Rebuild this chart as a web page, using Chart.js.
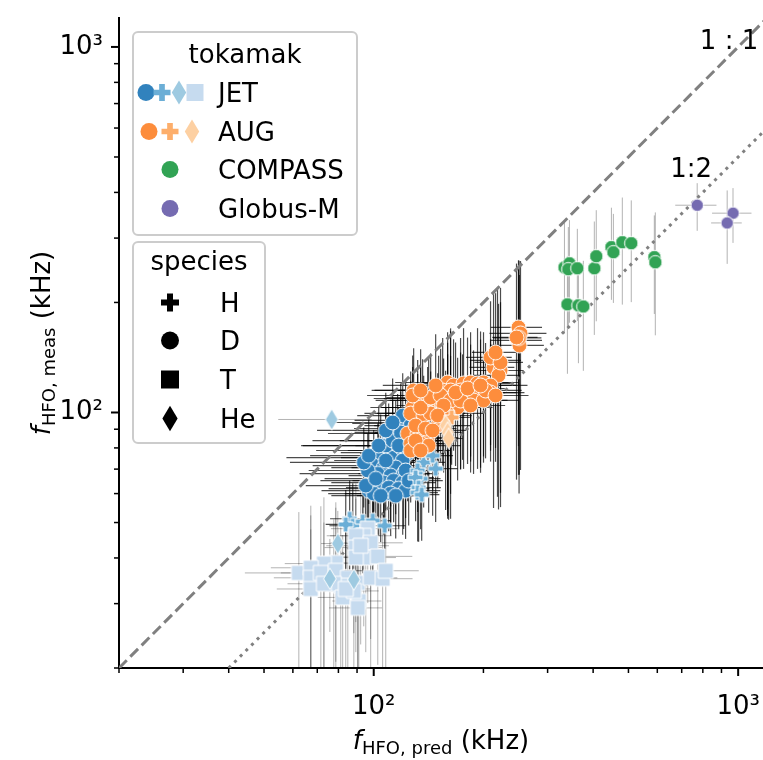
<!DOCTYPE html>
<html>
<head>
<meta charset="utf-8">
<title>HFO frequency: measured vs predicted</title>
<script src="https://cdn.jsdelivr.net/npm/chart.js@4.4.1/dist/chart.umd.min.js"></script>
<style>
  html, body { margin: 0; padding: 0; background: #fff; }
  #hfo { display: block; }
</style>
</head>
<body>
<canvas id="hfo" width="763" height="760"></canvas>
<script>
// Each point: [f_pred, f_meas, err_pred, err_meas], all in kHz
const jetD = [
  [118.6, 95.1, 30, 25], [116.3, 90.4, 28, 22], [122.3, 93.3, 35, 28], [114.9, 87.6, 40, 20],
  [109.9, 83.8, 42, 22], [104.5, 78.7, 35, 20], [109.2, 77.7, 28, 18], [114.9, 78.7, 30, 22],
  [123.9, 77.2, 32, 20], [102.6, 75.3, 45, 18], [111.3, 75.3, 30, 20], [120.1, 73.9, 28, 16],
  [100.0, 71.6, 32, 18], [106.5, 70.7, 30, 20], [114.9, 70.7, 28, 18], [102.6, 68.0, 40, 16],
  [111.3, 67.2, 26, 18], [120.8, 68.0, 30, 20], [99.4, 65.1, 28, 16], [106.5, 64.3, 30, 18],
  [113.4, 65.1, 26, 15], [120.1, 64.3, 28, 18], [96.9, 61.1, 25, 14], [103.2, 61.9, 28, 16],
  [109.9, 62.3, 26, 15], [117.1, 61.9, 25, 14], [122.3, 61.1, 30, 16], [100.0, 60.0, 25, 15],
  [111.3, 60.0, 28, 14], [120.1, 98.1, 30, 30], [126.3, 92.1, 32, 30], [107.9, 81.2, 44, 22],
  [128.7, 88.2, 28, 28], [96.3, 69.4, 30, 18], [107.9, 73.9, 30, 20], [126.3, 83.8, 30, 20],
  [93.9, 73.0, 35, 18], [96.9, 76.2, 30, 20], [103.2, 81.2, 40, 22], [112.7, 83.8, 32, 24],
  [118.6, 88.2, 30, 26], [117.1, 81.2, 28, 22], [122.3, 69.4, 26, 18], [124.7, 65.1, 30, 16],
  [114.9, 59.2, 25, 14], [104.5, 59.2, 28, 15], [95.1, 63.1, 30, 16], [107.9, 89.3, 38, 24],
  [112.7, 93.9, 35, 30], [101.3, 65.9, 28, 16]
];
const jetH = [
  [85.9, 51.2, 10, 14], [87.6, 49.0, 12, 15], [93.3, 50.3, 10, 14], [99.4, 50.6, 12, 16],
  [107.2, 49.0, 15, 14], [83.8, 49.4, 10, 12], [137.1, 73.0, 20, 18], [147.9, 70.2, 22, 20],
  [132.0, 69.4, 18, 16], [134.5, 65.9, 18, 18], [130.3, 66.4, 16, 16], [132.8, 62.3, 20, 18],
  [132.0, 60.4, 18, 16], [145.1, 76.2, 20, 24], [135.4, 59.6, 16, 15]
];
const jetHe = [
  [76.7, 95.7, 22, 5], [79.7, 43.8, 8, 10], [75.8, 35.1, 8, 10], [88.2, 34.9, 8, 10]
];
const jetT = [
  [96.3, 48.1, 20, 18], [93.9, 46.0, 18, 20], [89.3, 46.0, 15, 18], [98.1, 44.0, 22, 20],
  [89.3, 42.7, 16, 16], [95.1, 40.1, 20, 18], [102.6, 40.4, 25, 20], [89.3, 40.1, 15, 18],
  [78.7, 38.8, 14, 18], [73.0, 38.6, 16, 20], [62.3, 36.4, 18, 17], [67.2, 37.6, 15, 18],
  [67.2, 35.3, 14, 17], [71.6, 36.4, 16, 19], [78.7, 36.9, 14, 18], [84.9, 35.3, 18, 17],
  [81.2, 33.6, 15, 16], [77.7, 34.0, 12, 17], [67.2, 32.9, 13, 15], [73.0, 34.0, 15, 16],
  [90.4, 34.2, 16, 17], [98.1, 35.3, 18, 18], [105.8, 35.1, 22, 17], [107.9, 36.9, 25, 19],
  [82.2, 31.2, 12, 15], [91.0, 30.5, 14, 14], [88.2, 32.5, 15, 16], [83.8, 32.9, 14, 16],
  [90.4, 29.2, 15, 14], [92.1, 43.2, 18, 20]
];
const augD = [
  [249.6, 170.9, 40, 90], [252.8, 164.6, 45, 95], [249.6, 157.5, 40, 90], [251.0, 152.6, 42, 85],
  [250.5, 160.0, 38, 100], [246.5, 160.5, 35, 95],
  [218.6, 138.8, 35, 80], [213.2, 132.8, 30, 78], [222.8, 130.3, 35, 70], [220.0, 126.3, 32, 72],
  [209.2, 141.5, 30, 60], [222.8, 137.1, 34, 82], [215.9, 146.0, 30, 66],
  [159.5, 120.8, 45, 45], [165.6, 118.6, 40, 40], [176.4, 120.1, 45, 50], [184.4, 120.8, 50, 45],
  [192.7, 120.1, 45, 50], [200.1, 120.8, 50, 45], [209.2, 118.6, 55, 40], [154.6, 114.9, 40, 45],
  [162.5, 114.9, 45, 55], [173.1, 114.9, 40, 45], [184.4, 113.4, 45, 40], [196.4, 113.4, 50, 45],
  [209.2, 113.4, 50, 40], [150.7, 107.9, 40, 35], [162.5, 109.2, 42, 58], [175.3, 109.2, 45, 35],
  [187.9, 107.9, 45, 40], [200.1, 107.9, 50, 35], [159.5, 103.2, 40, 52], [169.9, 103.2, 42, 38],
  [128.7, 114.9, 30, 35], [132.0, 109.2, 32, 30], [136.2, 107.9, 35, 32], [127.9, 103.2, 30, 30],
  [140.6, 103.2, 35, 30], [132.0, 99.4, 30, 28], [126.3, 99.4, 32, 30], [137.1, 98.1, 30, 28],
  [141.5, 109.2, 35, 32], [143.3, 99.4, 35, 30], [134.5, 103.2, 30, 30], [143.3, 109.9, 35, 35],
  [152.6, 111.3, 40, 38], [162.5, 107.9, 40, 35], [173.1, 107.9, 42, 38], [159.5, 99.4, 40, 45],
  [123.9, 87.6, 30, 25], [132.0, 87.6, 32, 28], [140.6, 85.4, 30, 25], [126.3, 82.2, 28, 22],
  [134.5, 82.2, 30, 25], [141.5, 81.2, 32, 28], [126.3, 78.7, 28, 22], [149.8, 92.1, 35, 30],
  [130.3, 92.1, 30, 25], [147.9, 118.6, 42, 45], [167.7, 113.4, 45, 42], [180.9, 116.3, 48, 44],
  [202.7, 114.9, 52, 40], [215.9, 111.3, 50, 38], [155.5, 104.5, 40, 36], [184.4, 104.5, 45, 36],
  [196.4, 118.6, 50, 48], [127.9, 111.3, 32, 32], [134.5, 114.9, 34, 34], [149.8, 98.1, 36, 30],
  [138.8, 90.4, 30, 26], [130.3, 83.8, 30, 24], [145.1, 89.3, 34, 28], [134.5, 78.7, 28, 22]
];
const augH = [
  [163.6, 96.9, 20, 25]
];
const augHe = [
  [157.5, 92.1, 15, 38], [159.5, 88.2, 15, 36], [160.5, 84.9, 15, 34]
];
const compassD = [
  [333.7, 249.5, 12, 85], [344.4, 256.0, 12, 80], [342.0, 246.6, 10, 75], [362.0, 248.0, 10, 70],
  [403.0, 248.0, 12, 85], [408.0, 267.6, 10, 90], [449.0, 283.3, 12, 80], [454.6, 274.4, 10, 75],
  [481.0, 292.3, 12, 95], [509.0, 290.4, 12, 90], [588.8, 266.0, 10, 80], [592.5, 257.6, 10, 95],
  [340.0, 197.6, 10, 70], [364.5, 196.4, 12, 60], [376.0, 195.0, 10, 65]
];
const globusD = [
  [772, 369, 100, 55], [968, 351, 120, 60], [933, 330, 90, 75]
];

// reference ratios
const unityLine = [[20, 20], [1200, 1200]];
const halfLine = [[40, 20], [2400, 1200]];
const ratioLabels = ['1 : 1', '1:2'];
const ratioLabelAt = [[944, 988], [743, 440]];

// log axes
const axisMin = 20;
const xMax = 1170;
const yMax = 1200;
const tickValues = [20, 30, 40, 50, 60, 70, 80, 90, 100, 200, 300, 400, 500, 600, 700, 800, 900, 1000];
const majorTicks = [100, 1000];
const majorLabels = ['10²', '10³'];

const tokamakNames = ['JET', 'AUG', 'COMPASS', 'Globus-M'];
const speciesNames = ['H', 'D', 'T', 'He'];
const legendTitles = ['tokamak', 'species'];

const FONT = '"DejaVu Sans", sans-serif';
const C = {
  jetD: '#3182bd', jetH: '#6baed6', jetHe: '#9ecae1', jetT: '#c6dbef',
  augD: '#fd8d3c', augH: '#fdae6b', augHe: '#fdd0a2',
  compass: '#31a354', globus: '#756bb1'
};
const ERR_DARK = 'rgba(0,0,0,0.7)';
const ERR_LIGHT = 'rgba(0,0,0,0.3)';

// matplotlib-like marker outlines: o, P, s and thin diamond
function tracePath(g, shape, cx, cy, s) {
  const h = s / 2;
  g.beginPath();
  if (shape === 'circle') {
    g.arc(cx, cy, h, 0, Math.PI * 2);
  } else if (shape === 'square') {
    g.rect(cx - h, cy - h, s, s);
  } else if (shape === 'diamond') {
    const dv = s * 0.707, dh = dv * 0.6;
    g.moveTo(cx, cy - dv); g.lineTo(cx + dh, cy); g.lineTo(cx, cy + dv); g.lineTo(cx - dh, cy);
    g.closePath();
  } else if (shape === 'plus') {
    const t = s / 6;
    const pts = [[-t, -h], [t, -h], [t, -t], [h, -t], [h, t], [t, t], [t, h], [-t, h], [-t, t], [-h, t], [-h, -t], [-t, -t]];
    pts.forEach(([px, py], i) => (i ? g.lineTo(cx + px, cy + py) : g.moveTo(cx + px, cy + py)));
    g.closePath();
  }
}

function markerCanvas(shape, fill, size, edge) {
  const ext = shape === 'diamond' ? size * 1.414 : size;
  const dim = Math.ceil(ext + 2 * edge + 2);
  const c = document.createElement('canvas');
  c.width = dim; c.height = dim;
  const g = c.getContext('2d');
  tracePath(g, shape, dim / 2, dim / 2, size);
  g.fillStyle = fill;
  g.fill();
  if (edge) { g.lineWidth = edge; g.strokeStyle = '#fff'; g.stroke(); }
  return c;
}

const MS = 15;
function series(label, pts, shape, color, order, errColor, size) {
  return {
    label,
    data: pts.map(p => ({ x: p[0], y: p[1] })),
    errors: pts,
    errColor,
    pointStyle: markerCanvas(shape, color, size || MS, 1),
    order
  };
}

function refLine(pts, dash) {
  return {
    data: pts.map(p => ({ x: p[0], y: p[1] })),
    showLine: true,
    pointRadius: 0,
    borderColor: '#808080',
    borderWidth: 3,
    borderDash: dash,
    order: 20
  };
}

// error bars under everything, clipped to the axes
const errorBars = {
  id: 'errorBars',
  beforeDatasetsDraw(chart) {
    const { ctx, chartArea: a, scales: { x, y } } = chart;
    ctx.save();
    ctx.beginPath();
    ctx.rect(a.left, a.top, a.width, a.height);
    ctx.clip();
    chart.data.datasets.forEach(ds => {
      if (!ds.errors) return;
      ctx.strokeStyle = ds.errColor;
      ctx.lineWidth = ds.errColor === ERR_DARK ? 1.2 : 1;
      ds.errors.forEach(([xv, yv, xe, ye]) => {
        const px = x.getPixelForValue(xv), py = y.getPixelForValue(yv);
        const x0 = x.getPixelForValue(Math.max(xv - xe, 1)), x1 = x.getPixelForValue(xv + xe);
        const y0 = y.getPixelForValue(Math.max(yv - ye, 1)), y1 = y.getPixelForValue(yv + ye);
        ctx.beginPath(); ctx.moveTo(x0, py); ctx.lineTo(x1, py); ctx.stroke();
        ctx.beginPath(); ctx.moveTo(px, y0); ctx.lineTo(px, y1); ctx.stroke();
      });
    });
    ctx.restore();
  }
};

// text pieces with font / baseline shift, centred on (0, 0)
function drawRich(ctx, parts) {
  let w = 0;
  parts.forEach(p => { ctx.font = p.font; p.w = ctx.measureText(p.t).width; w += p.w; });
  let cx = -w / 2;
  ctx.textAlign = 'left';
  ctx.textBaseline = 'alphabetic';
  parts.forEach(p => { ctx.font = p.font; ctx.fillText(p.t, cx, p.dy); cx += p.w; });
}

function axisTitle(sub) {
  return [
    { t: 'f', font: 'italic 26px ' + FONT, dy: 0 },
    { t: sub, font: '18px ' + FONT, dy: 5 },
    { t: ' (kHz)', font: '26px ' + FONT, dy: 0 }
  ];
}

function legendFrame(ctx, x, y, w, h) {
  const r = 5;
  ctx.beginPath();
  ctx.moveTo(x + r, y); ctx.lineTo(x + w - r, y); ctx.arcTo(x + w, y, x + w, y + r, r);
  ctx.lineTo(x + w, y + h - r); ctx.arcTo(x + w, y + h, x + w - r, y + h, r);
  ctx.lineTo(x + r, y + h); ctx.arcTo(x, y + h, x, y + h - r, r);
  ctx.lineTo(x, y + r); ctx.arcTo(x, y, x + r, y, r);
  ctx.closePath();
  ctx.fillStyle = 'rgba(255,255,255,0.8)';
  ctx.fill();
  ctx.lineWidth = 2;
  ctx.strokeStyle = '#cccccc';
  ctx.stroke();
}

function legendMark(ctx, shape, color, cx, cy, s) {
  tracePath(ctx, shape, cx, cy, s);
  ctx.fillStyle = color;
  ctx.fill();
}

const decorations = {
  id: 'decorations',
  afterDraw(chart) {
    const { ctx, chartArea: a, scales: { x, y } } = chart;
    ctx.save();

    // tick marks
    ctx.strokeStyle = '#000';
    tickValues.forEach(v => {
      const major = majorTicks.includes(v);
      ctx.lineWidth = major ? 2 : 1.5;
      const len = major ? 8 : 5;
      const px = x.getPixelForValue(v);
      ctx.beginPath(); ctx.moveTo(px, a.bottom); ctx.lineTo(px, a.bottom + len); ctx.stroke();
      const py = y.getPixelForValue(v);
      ctx.beginPath(); ctx.moveTo(a.left, py); ctx.lineTo(a.left - len, py); ctx.stroke();
    });

    // axis titles
    ctx.fillStyle = '#000';
    ctx.save();
    ctx.translate((a.left + a.right) / 2, 749);
    drawRich(ctx, axisTitle('HFO, pred'));
    ctx.restore();
    ctx.save();
    ctx.translate(50, (a.top + a.bottom) / 2);
    ctx.rotate(-Math.PI / 2);
    drawRich(ctx, axisTitle('HFO, meas'));
    ctx.restore();

    // ratio line labels
    ctx.font = '26px ' + FONT;
    ctx.textAlign = 'center';
    ctx.textBaseline = 'alphabetic';
    ratioLabels.forEach((t, i) => {
      ctx.fillText(t, x.getPixelForValue(ratioLabelAt[i][0]), y.getPixelForValue(ratioLabelAt[i][1]));
    });

    // legend: tokamak
    legendFrame(ctx, 133, 32, 224, 203);
    ctx.fillStyle = '#000';
    ctx.font = '26px ' + FONT;
    ctx.textAlign = 'center';
    ctx.fillText(legendTitles[0], 245, 63);
    const rowBase = [102, 141, 179, 218];
    const tokMarks = [
      [['circle', C.jetD, 146], ['plus', C.jetH, 162], ['diamond', C.jetHe, 179], ['square', C.jetT, 195]],
      [['circle', C.augD, 149], ['plus', C.augH, 170], ['diamond', C.augHe, 192]],
      [['circle', C.compass, 170]],
      [['circle', C.globus, 170]]
    ];
    tokMarks.forEach((marks, i) => {
      marks.forEach(([shape, col, mx]) => legendMark(ctx, shape, col, mx, rowBase[i] - 9.5, 17));
    });
    ctx.fillStyle = '#000';
    ctx.textAlign = 'left';
    tokamakNames.forEach((t, i) => ctx.fillText(t, 218, rowBase[i]));

    // legend: species
    legendFrame(ctx, 133, 242, 132, 201);
    ctx.fillStyle = '#000';
    ctx.textAlign = 'center';
    ctx.fillText(legendTitles[1], 199, 270);
    const spBase = [312, 350, 389, 428];
    const spShapes = ['plus', 'circle', 'square', 'diamond'];
    spShapes.forEach((shape, i) => legendMark(ctx, shape, '#000', 170, spBase[i] - 9.5, 18));
    ctx.fillStyle = '#000';
    ctx.textAlign = 'left';
    speciesNames.forEach((t, i) => ctx.fillText(t, 220, spBase[i]));

    ctx.restore();
  }
};

function tickLabel(value) {
  const i = majorTicks.indexOf(value);
  return i >= 0 ? majorLabels[i] : '';
}

const axisCommon = {
  type: 'logarithmic',
  min: axisMin,
  grid: { display: false, drawTicks: false },
  border: { display: true, color: '#000', width: 2 },
  afterBuildTicks: s => { s.ticks = tickValues.map(v => ({ value: v })); },
  ticks: {
    autoSkip: false,
    maxRotation: 0,
    color: '#000',
    font: { family: FONT, size: 26 },
    callback: tickLabel
  }
};

function noPadding(s) {
  s.paddingLeft = 0; s.paddingRight = 0; s.paddingTop = 0; s.paddingBottom = 0;
}

new Chart(document.getElementById('hfo'), {
  type: 'scatter',
  data: {
    datasets: [
      refLine(unityLine, [11, 5]),
      refLine(halfLine, [3, 5]),
      series('JET D', jetD, 'circle', C.jetD, 9, ERR_DARK),
      series('JET H', jetH, 'plus', C.jetH, 8, ERR_DARK),
      series('JET T', jetT, 'square', C.jetT, 7, ERR_LIGHT),
      series('JET He', jetHe, 'diamond', C.jetHe, 6, ERR_LIGHT),
      series('AUG D', augD, 'circle', C.augD, 5, ERR_DARK),
      series('AUG H', augH, 'plus', C.augH, 4, ERR_DARK),
      series('AUG He', augHe, 'diamond', C.augHe, 3, ERR_DARK),
      series('COMPASS D', compassD, 'circle', C.compass, 2, ERR_LIGHT, 13.5),
      series('Globus-M D', globusD, 'circle', C.globus, 1, ERR_LIGHT, 12.5)
    ]
  },
  options: {
    responsive: false,
    animation: false,
    devicePixelRatio: 1,
    layout: { autoPadding: false, padding: { top: 18, right: 0, bottom: 0, left: 0 } },
    plugins: { legend: { display: false }, tooltip: { enabled: false } },
    scales: {
      x: Object.assign({}, axisCommon, {
        max: xMax,
        position: 'bottom',
        afterFit: s => { s.height = 92; noPadding(s); },
        ticks: Object.assign({}, axisCommon.ticks, { padding: 24 })
      }),
      y: Object.assign({}, axisCommon, {
        max: yMax,
        position: 'left',
        afterFit: s => { s.width = 119; noPadding(s); },
        ticks: Object.assign({}, axisCommon.ticks, { padding: 16 })
      })
    }
  },
  plugins: [errorBars, decorations]
});
</script>
</body>
</html>
